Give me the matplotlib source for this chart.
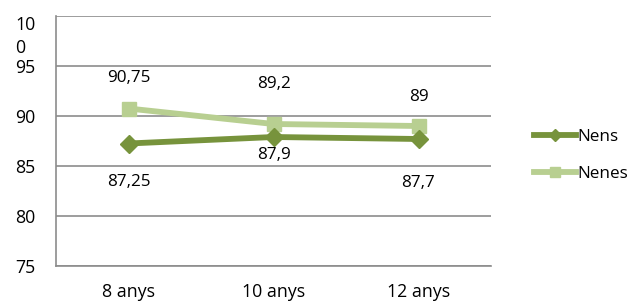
import numpy as np
import matplotlib.pyplot as plt

plt.rcParams['font.family'] = ['Open Sans', 'DejaVu Sans']

# data
categories = ['8 anys', '10 anys', '12 anys']
nens = [87.25, 87.9, 87.7]
nenes = [90.75, 89.2, 89]
nens_labels = ['87,25', '87,9', '87,7']
nenes_labels = ['90,75', '89,2', '89']
yticks = [75, 80, 85, 90, 95, 100]
ytick_labels = ['75', '80', '85', '90', '95', '10\n0']

# label offsets in pixels (Excel placement)
nens_off = [-38, -18, -44]
nenes_off = [30, 40, 29]

dark = '#77933C'
light = '#B8CF91'
grid = '#8C8C8C'

fig = plt.figure(figsize=(6.37, 3.05), dpi=100)
ax = fig.add_axes([56/637, 39/305, 435/637, 250/305])

x = np.arange(len(categories))
ax.plot(x, nens, color=dark, lw=4.2, marker='D', ms=9, label='Nens', zorder=3)
ax.plot(x, nenes, color=light, lw=4.2, marker='s', ms=10, label='Nenes', zorder=2)

for i in range(len(x)):
    ax.annotate(nens_labels[i], (x[i], nens[i]), xytext=(0, nens_off[i] * 0.72),
                textcoords='offset points', ha='center', va='center', fontsize=12.3)
    ax.annotate(nenes_labels[i], (x[i], nenes[i]), xytext=(0, nenes_off[i] * 0.72),
                textcoords='offset points', ha='center', va='center', fontsize=12.3)

ax.set_xlim(-0.5, len(x) - 0.5)
ax.set_ylim(75, 100)
ax.set_yticks(yticks)
ax.set_yticklabels(ytick_labels, fontsize=12.8)
ax.set_xticks(x)
ax.set_xticklabels(categories, fontsize=12.8)
ax.tick_params(length=0, pad=15, axis='y')
ax.tick_params(length=0, pad=12, axis='x')
for lab in ax.get_yticklabels():
    lab.set_multialignment('left')
    lab.set_linespacing(1.35)
top = ax.get_yticklabels()[-1]
top.set_va('top')
top.set_y(101.0)

ax.grid(axis='y', color=grid, lw=1.2)
for s in ['top', 'right']:
    ax.spines[s].set_visible(False)
ax.spines['left'].set_color(grid)
ax.spines['bottom'].set_color(grid)
ax.spines['left'].set_linewidth(1.2)
ax.spines['bottom'].set_linewidth(1.2)

ax.legend(loc='center left', bbox_to_anchor=(1.063, 0.442), frameon=False,
          fontsize=12.3, handlelength=2.5, handletextpad=0.05, labelspacing=1.2,
          markerscale=0.65)

fig.savefig('out.png', dpi=100)
